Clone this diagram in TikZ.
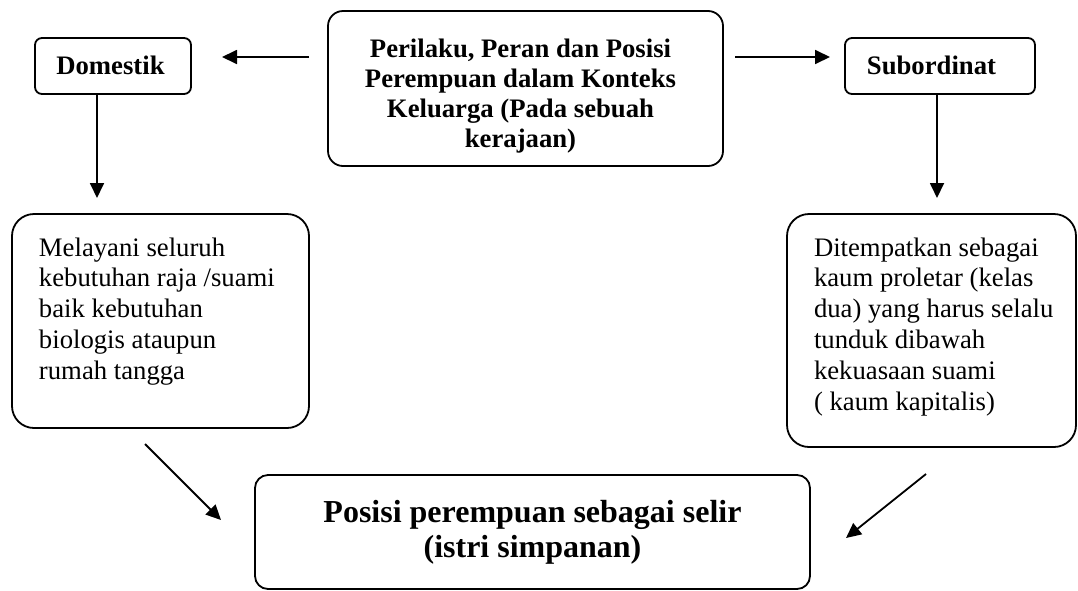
\documentclass[tikz,border=0pt]{standalone}
\usepackage{fontspec}
\setmainfont{Liberation Serif}
\usetikzlibrary{arrows.meta,calc}
\tikzset{
  box/.style={draw, line width=1.8pt, inner sep=0pt, outer sep=0pt, anchor=north west},
  arr/.style={line width=1.8pt, -{Triangle[length=15pt,width=14pt]}},
}
\begin{document}
\begin{tikzpicture}[x=1pt,y=-1pt]
\useasboundingbox (0,0) rectangle (1078,590);
% boxes
\node[box, rounded corners=15pt] (center) at (328,11) {\parbox[t][155pt][t]{395pt}{\centering\rightskip=10pt plus 1fil\fontsize{26.7pt}{30pt}\selectfont\bfseries\rule{0pt}{46pt}Perilaku, Peran dan Posisi\\Perempuan dalam Konteks\\Keluarga (Pada sebuah\\kerajaan)}};
\node[box, rounded corners=7pt] (dom) at (35,38) {\parbox[t][56pt][t]{156pt}{\centering\rightskip=5pt plus 1fil\fontsize{26.7pt}{30pt}\selectfont\bfseries\rule{0pt}{36pt}Domestik}};
\node[box, rounded corners=7pt] (sub) at (845,38) {\parbox[t][56pt][t]{190pt}{\centering\rightskip=17pt plus 1fil\fontsize{26.7pt}{30pt}\selectfont\bfseries\rule{0pt}{36pt}Subordinat}};
\node[box, rounded corners=22pt] (mel) at (12,214) {\parbox[t][214pt][t]{297pt}{\raggedright\leftskip=27pt\fontsize{26.7pt}{30.8pt}\selectfont\rule{0pt}{42pt}Melayani seluruh\\kebutuhan raja /suami\\baik kebutuhan\\biologis ataupun\\rumah tangga}};
\node[box, rounded corners=22pt] (dit) at (787,214) {\parbox[t][233pt][t]{289pt}{\raggedright\leftskip=27pt\fontsize{26.7pt}{30.8pt}\selectfont\rule{0pt}{42pt}Ditempatkan sebagai\\kaum proletar (kelas\\dua) yang harus selalu\\tunduk dibawah\\kekuasaan suami\\( kaum kapitalis)}};
\node[box, rounded corners=13pt] (pos) at (255,475) {\parbox[t][114pt][t]{555pt}{\centering\fontsize{32pt}{35pt}\selectfont\bfseries\rule{0pt}{47pt}Posisi perempuan sebagai selir\\(istri simpanan)}};
% arrow end points
\coordinate (a1s) at ($(center.north west)+(-19,46)$);
\coordinate (a1e) at ($(dom.north east)+(31,19)$);
\coordinate (a2s) at ($(center.north east)+(12,46)$);
\coordinate (a2e) at ($(sub.north west)+(-15,19)$);
\coordinate (a3s) at ($(dom.south west)+(62,0)$);
\coordinate (a3e) at ($(mel.north west)+(85,-16)$);
\coordinate (a4s) at ($(sub.south west)+(92,0)$);
\coordinate (a4e) at ($(dit.north west)+(150,-16)$);
\coordinate (a5s) at ($(mel.south west)+(133,16)$);
\coordinate (a5e) at ($(pos.north west)+(-34,45)$);
\coordinate (a6s) at ($(dit.south west)+(139,27)$);
\coordinate (a6e) at ($(pos.north east)+(36,63)$);
% connectors
\draw[arr] (a1s) -- (a1e);
\draw[arr] (a2s) -- (a2e);
\draw[arr] (a3s) -- (a3e);
\draw[arr] (a4s) -- (a4e);
\draw[arr] (a5s) -- (a5e);
\draw[arr] (a6s) -- (a6e);
\end{tikzpicture}
\end{document}
